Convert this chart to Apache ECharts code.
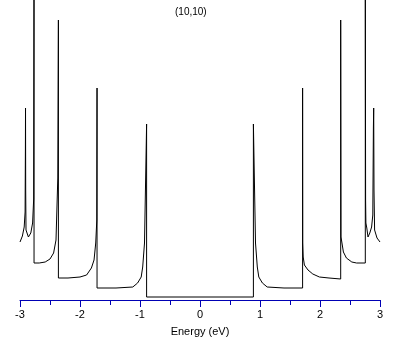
<!DOCTYPE html>
<html>
<head>
<meta charset="utf-8">
<script src="https://cdn.jsdelivr.net/npm/echarts@6/dist/echarts.min.js"></script>
<style>
  html, body { margin: 0; padding: 0; background: #fff; }
  #chart { width: 409px; height: 345px; }
</style>
</head>
<body>
<div id="chart"></div>
<script>
// DOS of a (10,10) tube, arbitrary units
var energy = [
  -3.0, -2.96, -2.93, -2.915, -2.91, -2.908, -2.905, -2.9, -2.86, -2.82,
  -2.79, -2.772, -2.766, -2.766, -2.68, -2.58, -2.50, -2.44, -2.40, -2.37,
  -2.36, -2.36, -2.2, -2.0, -1.89, -1.81, -1.766, -1.738, -1.72, -1.716,
  -1.716, -1.4, -1.12, -1.04, -0.98, -0.955, -0.925, -0.89, -0.89, -0.5,
  0.0, 0.5, 0.89, 0.89, 0.925, 0.955, 0.98, 1.04, 1.12, 1.4,
  1.71, 1.71, 1.712, 1.72, 1.74, 1.80, 1.88, 1.99, 2.15, 2.345,
  2.345, 2.35, 2.39, 2.44, 2.53, 2.61, 2.755, 2.755, 2.76, 2.765,
  2.78, 2.80, 2.83, 2.86, 2.88, 2.89, 2.895, 2.90, 2.91, 2.95,
  3.0
];
var dos = [
  58, 64, 73, 88, 150, 192, 110, 70, 63, 67,
  77, 101, 350, 37, 37, 38, 41, 47, 60, 122,
  280, 22, 22, 23, 25, 32, 40, 57, 80, 212,
  12, 12, 13, 17, 23, 33, 57, 176, 3, 3,
  3, 3, 3, 176, 57, 33, 23, 17, 13, 12,
  12, 212, 57, 43, 35, 30, 26, 23, 22, 21,
  280, 63, 48, 42, 38, 37, 37, 350, 100, 77,
  72, 63, 67, 73, 85, 172, 192, 110, 70, 62,
  58
];
var xTicks = [-3, -2, -1, 0, 1, 2, 3];

var points = energy.map(function (e, i) { return [e, dos[i]]; });

var myChart = echarts.init(document.getElementById('chart'));
var option = {
  animation: false,
  backgroundColor: '#fff',
  title: {
    text: '(10,10)',
    left: 170,
    top: 2,
    textStyle: { fontSize: 10, fontWeight: 'normal', color: '#000', fontFamily: 'Liberation Sans' }
  },
  grid: { left: 20, right: 29, top: 0, bottom: 45 },
  xAxis: {
    type: 'value',
    min: xTicks[0],
    max: xTicks[xTicks.length - 1],
    interval: 1,
    name: 'Energy (eV)',
    nameLocation: 'middle',
    nameGap: 26,
    nameTextStyle: { fontSize: 11, color: '#000', fontFamily: 'Liberation Sans' },
    axisLine: { lineStyle: { color: '#0000b4', width: 1 } },
    axisTick: { length: 7, lineStyle: { color: '#0000b4' } },
    minorTick: { show: true, splitNumber: 2, length: 5, lineStyle: { color: '#0000b4' } },
    splitLine: { show: false },
    axisLabel: { fontSize: 11, color: '#000', margin: 9, fontFamily: 'Liberation Sans' }
  },
  yAxis: {
    type: 'value',
    min: 0,
    max: 300,
    show: false
  },
  series: [{
    type: 'line',
    data: points,
    showSymbol: false,
    clip: true,
    lineStyle: { color: '#000', width: 1 }
  }]
};
myChart.setOption(option);
</script>
</body>
</html>
